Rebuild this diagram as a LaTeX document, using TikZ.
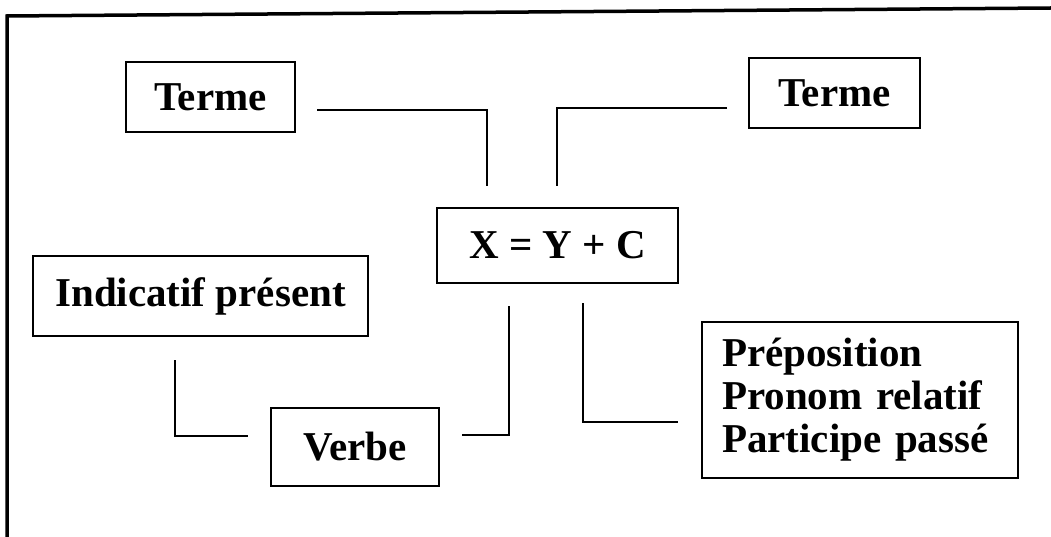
\documentclass[tikz,border=0pt]{standalone}
\usepackage{fontspec}
\setmainfont{Liberation Serif}
\begin{document}
\begin{tikzpicture}[x=1pt,y=-1pt,
  box/.style={draw=black,line width=2.8pt,inner sep=0pt,font=\fontsize{41}{43}\selectfont\bfseries},
  conn/.style={draw=black,line width=2.8pt},
  frame/.style={draw=black,line width=3.5pt}]
\useasboundingbox (0,0) rectangle (1051,537);
\node[box,minimum width=169pt,minimum height=70pt] (terme1) at (210.5,97) {Terme};
\node[box,minimum width=171pt,minimum height=70pt] (terme2) at (834.5,93) {Terme};
\node[box,minimum width=241pt,minimum height=75pt] (xyc) at (557.5,245.5) {X = Y + C};
\node[box,minimum width=335pt,minimum height=80pt] (indic) at (200.5,296) {Indicatif présent};
\node[box,minimum width=168pt,minimum height=78pt] (verbe) at (355,447) {Verbe};
\node[box,minimum width=316pt,minimum height=156pt,align=left,text width=276pt] (prep) at (860,400) {Préposition\\Pronom relatif\\Participe passé};
% connector end points
\coordinate (a1) at (317,110); \coordinate (a2) at (487,186);
\coordinate (b1) at (727,108); \coordinate (b2) at (557,186);
\coordinate (v1) at (509,306); \coordinate (v2) at (462,435);
\coordinate (i1) at (175,360); \coordinate (i2) at (248,436);
\coordinate (p1) at (583,303); \coordinate (p2) at (678,422);
\draw[conn] (a1) -| (a2);
\draw[conn] (b1) -| (b2);
\draw[conn] (v1) |- (v2);
\draw[conn] (i1) |- (i2);
\draw[conn] (p1) |- (p2);
% frame
\coordinate (f1) at (7,537); \coordinate (f2) at (7,16); \coordinate (f3) at (1051,8);
\draw[frame] (f1) -- (f2) -- (f3);
\end{tikzpicture}
\end{document}
